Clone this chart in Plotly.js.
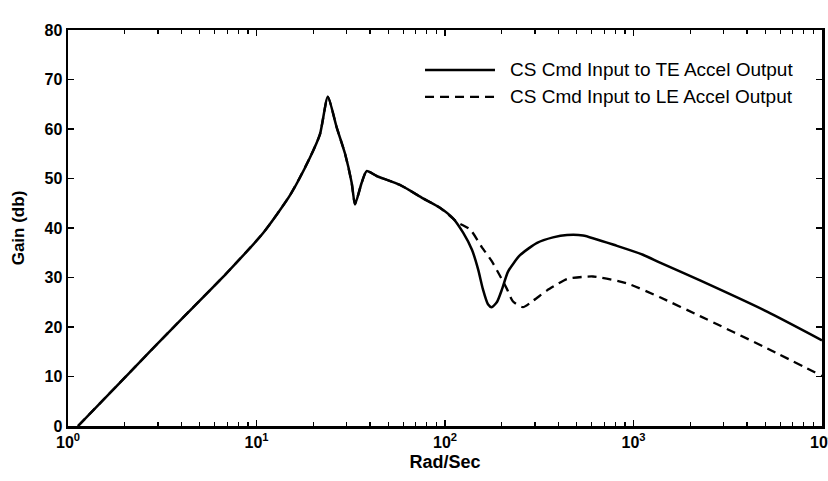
<!DOCTYPE html>
<html>
<head>
<meta charset="utf-8">
<script src="https://cdn.plot.ly/plotly-3.0.1.min.js"></script>
<style>
  html, body { margin: 0; padding: 0; background: #fff; }
  #chart { width: 828px; height: 481px; }
</style>
</head>
<body>
<div id="chart"></div>
<script>
// ---- Data (frequency in rad/sec, gain in dB) ----
const teFreq = [1.13, 2.05, 3.77, 6.95, 10.9, 15.1, 19.2, 21.7, 23.9,
  26.6, 29.5, 32.0, 33.3, 36.1, 38.4, 43.4, 57.7, 76.4, 94,
  110, 125, 139, 150, 159, 169, 177, 189, 201, 216, 250, 308, 374, 444, 540,
  817, 1122, 1382, 2254, 5109, 10000];
const teGain = [0, 10.2, 20.6, 30.9, 39.1, 46.7, 54.2, 58.9, 66.5,
  60.4, 55.0, 49.1, 44.8, 49.1, 51.5, 50.5, 48.7, 46.0, 44.1,
  42.0, 39.0, 35.6, 31.6, 27.6, 24.6, 24.0, 25.1, 27.7, 31.2, 34.5, 37.0, 38.1, 38.6, 38.5,
  36.4, 34.6, 33.0, 29.4, 23.1, 17.3];

const leFreq = [1.13, 2.05, 3.77, 6.95, 10.9, 15.1, 19.2, 21.7, 23.9,
  26.6, 29.5, 32.0, 33.3, 36.1, 38.4, 43.4, 57.7, 76.4, 94,
  116, 136, 157, 177, 196, 213, 229, 259, 293, 348, 393, 444, 610,
  924, 1382, 2254, 5109, 10000];
const leGain = [0, 10.2, 20.6, 30.9, 39.1, 46.7, 54.2, 58.9, 66.5,
  60.4, 55.0, 49.1, 44.8, 49.1, 51.5, 50.5, 48.7, 46.0, 44.1,
  41.2, 39.7, 36.1, 33.3, 30.3, 27.7, 25.2, 24.0, 25.3, 27.4, 28.6, 29.7, 30.2,
  28.8, 26.0, 22.2, 15.7, 10.1];

const seriesNames = ["CS Cmd Input to TE Accel Output", "CS Cmd Input to LE Accel Output"];

const xTickVals = [1, 10, 100, 1000, 10000];
const xTickText = ["10<sup>0</sup>", "10<sup>1</sup>", "10<sup>2</sup>", "10<sup>3</sup>", "10<sup>4</sup>"];
const yTickVals = [0, 10, 20, 30, 40, 50, 60, 70, 80];

// minor log ticks (axis structure)
const xMinor = [];
for (let d = 0; d < 4; d++) for (let k = 2; k <= 9; k++) xMinor.push(k * Math.pow(10, d));

const FONT = "Liberation Sans, Arial, Helvetica, sans-serif";

const traces = [
  { x: teFreq, y: teGain, type: "scatter", mode: "lines", name: seriesNames[0],
    line: { color: "#000", width: 2.5, shape: "spline", smoothing: 0.6 }, showlegend: false },
  { x: leFreq, y: leGain, type: "scatter", mode: "lines", name: seriesNames[1],
    line: { color: "#000", width: 2.3, dash: "9px,6px", shape: "spline", smoothing: 0.6 }, showlegend: false }
];

// legend drawn by hand (long sample lines as in the reference)
const lx0 = 0.4735, lx1 = 0.5663, ltx = 0.5836, ly1 = 0.899, ly2 = 0.831;

const layout = {
  width: 828, height: 481,
  margin: { l: 68, r: 6, t: 30, b: 55, pad: 0 },
  paper_bgcolor: "#fff", plot_bgcolor: "#fff",
  font: { family: FONT, color: "#000" },
  showlegend: false,
  xaxis: {
    type: "log", range: [0, 4],
    showline: true, linecolor: "#000", linewidth: 2.5, mirror: "allticks",
    ticks: "inside", ticklen: 6, tickwidth: 1.5, tickcolor: "#000",
    tickmode: "array", tickvals: xTickVals, ticktext: xTickText,
    ticklabeloverflow: "allow",
    tickfont: { family: FONT, size: 16, weight: "bold", color: "#000" },
    showgrid: false, zeroline: false,
    minor: { ticks: "inside", ticklen: 4, tickwidth: 1.3, tickcolor: "#000",
             tickmode: "array", tickvals: xMinor, showgrid: false },
    title: { text: "Rad/Sec", standoff: 6,
             font: { family: FONT, size: 18, weight: "bold", color: "#000" } }
  },
  yaxis: {
    range: [0, 80],
    showline: true, linecolor: "#000", linewidth: 2.5, mirror: "allticks",
    ticks: "inside", ticklen: 6, tickwidth: 1.5, tickcolor: "#000",
    tickmode: "array", tickvals: yTickVals,
    tickfont: { family: FONT, size: 16, weight: "bold", color: "#000" },
    showgrid: false, zeroline: false,
    title: { text: "Gain (db)", standoff: 16,
             font: { family: FONT, size: 17, weight: "bold", color: "#000" } }
  },
  shapes: [
    { type: "line", xref: "paper", yref: "paper", x0: lx0, x1: lx1, y0: ly1, y1: ly1,
      line: { color: "#000", width: 2.5 } },
    { type: "line", xref: "paper", yref: "paper", x0: lx0, x1: lx1, y0: ly2, y1: ly2,
      line: { color: "#000", width: 2.3, dash: "9px,6px" } }
  ],
  annotations: [
    { xref: "paper", yref: "paper", x: ltx, y: ly1, xanchor: "left", yanchor: "middle",
      text: seriesNames[0], showarrow: false,
      font: { family: FONT, size: 19, color: "#000" } },
    { xref: "paper", yref: "paper", x: ltx, y: ly2, xanchor: "left", yanchor: "middle",
      text: seriesNames[1], showarrow: false,
      font: { family: FONT, size: 19, color: "#000" } }
  ]
};

Plotly.newPlot("chart", traces, layout, { staticPlot: true, displayModeBar: false });
</script>
</body>
</html>
